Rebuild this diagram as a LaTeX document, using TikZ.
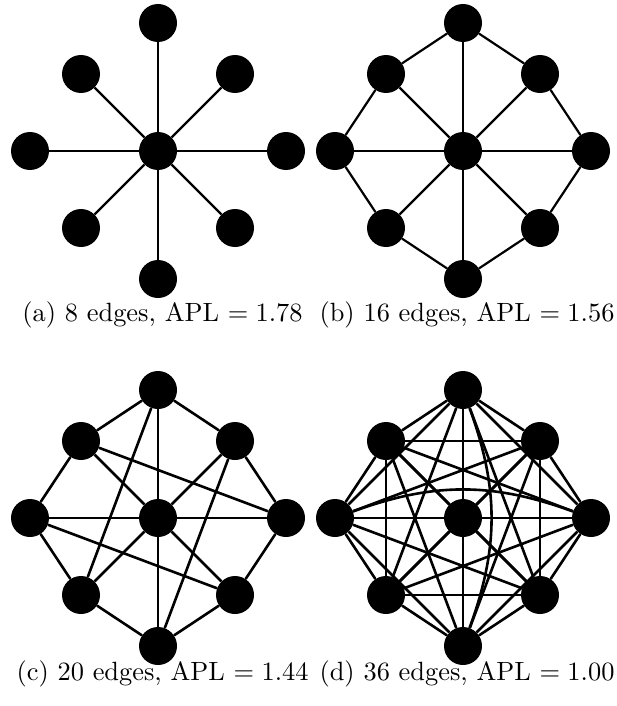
\documentclass[tikz,border=0pt]{standalone}
\usepackage{tikz}

\tikzset{
  vert/.style={circle, fill=black, draw=none, minimum size=38pt, inner sep=0pt},
  edge/.style={line width=2.2pt, black},
  denseedge/.style={line width=2.6pt, black},
  caption/.style={anchor=base, inner sep=0pt, scale=2.64, transform shape,
                  font=\fontsize{10}{12}\selectfont}
}

% nine vertices: a hub and eight around it, named with the given prefix
\newcommand\octnodes[1]{%
  \node[vert] (#1c)  at (0,0)     {};
  \node[vert] (#1n)  at (0,-128)  {};
  \node[vert] (#1ne) at (77,-77)  {};
  \node[vert] (#1e)  at (128,0)   {};
  \node[vert] (#1se) at (77,77)   {};
  \node[vert] (#1s)  at (0,128)   {};
  \node[vert] (#1sw) at (-77,77)  {};
  \node[vert] (#1w)  at (-128,0)  {};
  \node[vert] (#1nw) at (-77,-77) {};
}

\begin{document}
\begin{tikzpicture}[x=1pt, y=-1pt]
\useasboundingbox (0,0) rectangle (616,706);

% (a) star
\begin{scope}[shift={(158,151)}]
  \octnodes{a}
  \foreach \v in {n,ne,e,se,s,sw,w,nw} \draw[edge] (ac) -- (a\v);
\end{scope}

% (b) star plus outer ring
\begin{scope}[shift={(463,151)}]
  \octnodes{b}
  \foreach \v in {n,ne,e,se,s,sw,w,nw} \draw[edge] (bc) -- (b\v);
  \foreach \u/\v in {n/ne,ne/e,e/se,se/s,s/sw,sw/w,w/nw,nw/n}
    \draw[edge] (b\u) -- (b\v);
\end{scope}

% (c) star, ring and four chords
\begin{scope}[shift={(158,518)}]
  \octnodes{c}
  \foreach \v in {n,ne,e,se,s,sw,w,nw} \draw[denseedge] (cc) -- (c\v);
  \foreach \u/\v in {n/ne,ne/e,e/se,se/s,s/sw,sw/w,w/nw,nw/n}
    \draw[denseedge] (c\u) -- (c\v);
  \foreach \u/\v in {nw/e,w/se,n/sw,ne/s}
    \draw[denseedge] (c\u) -- (c\v);
\end{scope}

% (d) complete graph
\begin{scope}[shift={(463,518)}]
  \octnodes{d}
  \foreach \v in {n,ne,e,se,s,sw,w,nw} \draw[denseedge] (dc) -- (d\v);
  \foreach \u/\v in {n/ne,n/e,n/se,n/sw,n/w,n/nw,
                     ne/e,ne/se,ne/s,ne/sw,ne/w,ne/nw,
                     e/se,e/s,e/sw,e/nw,
                     se/s,se/sw,se/w,se/nw,
                     s/sw,s/w,s/nw,
                     sw/w,sw/nw,
                     w/nw}
    \draw[denseedge] (d\u) -- (d\v);
  % the two pairs whose straight chord would run through the hub
  \draw[denseedge] (dw) to[bend left=20] (de);
  \draw[denseedge] (dn) to[bend left=20] (ds);
\end{scope}

\node[caption] (capa) at (162.5,321) {(a) 8 edges, APL $=1.78$};
\node[caption] (capb) at (467,321) {(b) 16 edges, APL $=1.56$};
\node[caption] (capc) at (162.5,680) {(c) 20 edges, APL $=1.44$};
\node[caption] (capd) at (467,680) {(d) 36 edges, APL $=1.00$};
\end{tikzpicture}
\end{document}
